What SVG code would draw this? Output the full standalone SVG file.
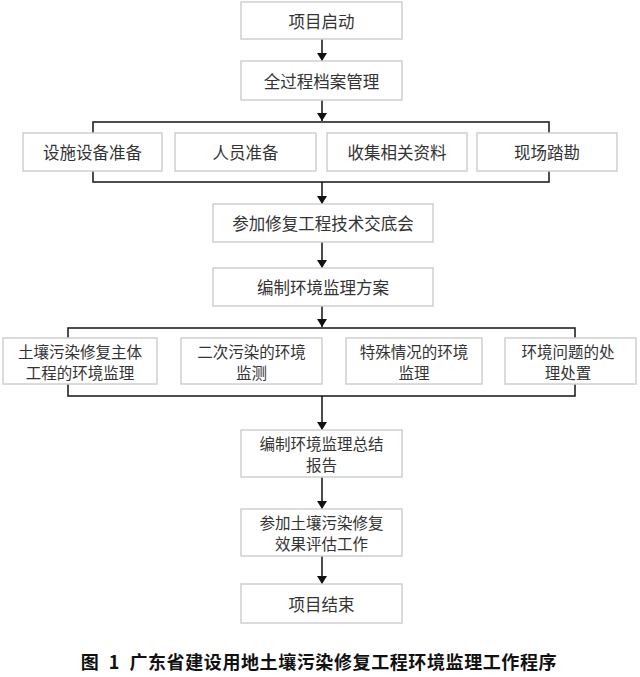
<svg xmlns="http://www.w3.org/2000/svg" width="640" height="677" viewBox="0 0 640 677">
<defs>
<style>
.box{fill:#ffffff;stroke:#cfcfcf;stroke-width:1.5}
.t{font-family:"Noto Sans CJK SC","Noto Sans CJK JP",sans-serif;font-size:16.5px;fill:#333333;text-anchor:middle;dominant-baseline:central}
.t2{font-family:"Noto Sans CJK SC","Noto Sans CJK JP",sans-serif;font-size:15.5px;fill:#333333;text-anchor:middle;dominant-baseline:central}
.br{fill:none;stroke:#222222;stroke-width:1.6}
.ar{stroke:#111111;stroke-width:1.5;fill:none;marker-end:url(#ah)}
.cap{font-family:"Noto Sans CJK SC","Noto Sans CJK JP",sans-serif;font-size:18px;font-weight:bold;fill:#111111;text-anchor:middle;dominant-baseline:central;letter-spacing:0.6px}
</style>
<marker id="ah" markerWidth="8" markerHeight="10" refX="8" refY="5" orient="auto" markerUnits="userSpaceOnUse" viewBox="0 0 8 10">
<path d="M0,0 L8,5 L0,10 Z" fill="#111111"/>
</marker>
</defs>
<rect width="640" height="677" fill="#ffffff"/>
<g id="connectors">
<rect class="br" x="93" y="122" width="456" height="60"/>
<rect class="br" x="68" y="328" width="507" height="68"/>
<line class="ar" x1="322" y1="39" x2="322" y2="61"/>
<line class="ar" x1="322" y1="100" x2="322" y2="121"/>
<line class="ar" x1="322" y1="182" x2="322" y2="204"/>
<line class="ar" x1="322" y1="242" x2="322" y2="268"/>
<line class="ar" x1="322" y1="306" x2="322" y2="327"/>
<line class="ar" x1="322" y1="396" x2="322" y2="430"/>
<line class="ar" x1="322" y1="477" x2="322" y2="509"/>
<line class="ar" x1="322" y1="556" x2="322" y2="584"/>
</g>
<g id="n1"><rect class="box" x="241" y="2" width="161" height="37"/><text class="t" x="321.5" y="20.5">项目启动</text></g>
<g id="n2"><rect class="box" x="241" y="61" width="161" height="39"/><text class="t" x="321.5" y="80.5">全过程档案管理</text></g>
<g id="n3"><rect class="box" x="23" y="133" width="139" height="38"/><text class="t" x="92.5" y="152">设施设备准备</text></g>
<g id="n4"><rect class="box" x="175" y="133" width="141" height="38"/><text class="t" x="245.5" y="152">人员准备</text></g>
<g id="n5"><rect class="box" x="327" y="133" width="140" height="38"/><text class="t" x="397" y="152">收集相关资料</text></g>
<g id="n6"><rect class="box" x="477" y="133" width="140" height="38"/><text class="t" x="547" y="152">现场踏勘</text></g>
<g id="n7"><rect class="box" x="213" y="204" width="220" height="38"/><text class="t" x="323" y="223">参加修复工程技术交底会</text></g>
<g id="n8"><rect class="box" x="213" y="268" width="220" height="38"/><text class="t" x="323" y="287">编制环境监理方案</text></g>
<g id="n9"><rect class="box" x="3" y="338" width="154" height="46"/><text class="t2" x="80" y="350.5">土壤污染修复主体</text><text class="t2" x="80" y="371.5">工程的环境监理</text></g>
<g id="n10"><rect class="box" x="181" y="338" width="141" height="46"/><text class="t2" x="251.5" y="350.5">二次污染的环境</text><text class="t2" x="251.5" y="371.5">监测</text></g>
<g id="n11"><rect class="box" x="346" y="338" width="136" height="46"/><text class="t2" x="414" y="350.5">特殊情况的环境</text><text class="t2" x="414" y="371.5">监理</text></g>
<g id="n12"><rect class="box" x="505" y="338" width="131" height="46"/><text class="t2" x="568" y="350.5">环境问题的处</text><text class="t2" x="568" y="371.5">理处置</text></g>
<g id="n13"><rect class="box" x="241" y="430" width="161" height="47"/><text class="t2" x="321.5" y="443">编制环境监理总结</text><text class="t2" x="321.5" y="464">报告</text></g>
<g id="n14"><rect class="box" x="241" y="509" width="161" height="47"/><text class="t2" x="321.5" y="522">参加土壤污染修复</text><text class="t2" x="321.5" y="543">效果评估工作</text></g>
<g id="n15"><rect class="box" x="241" y="584" width="161" height="39"/><text class="t" x="321.5" y="603.5">项目结束</text></g>
<text class="cap" x="319" y="661" xml:space="preserve">图  1  广东省建设用地土壤污染修复工程环境监理工作程序</text>
</svg>
